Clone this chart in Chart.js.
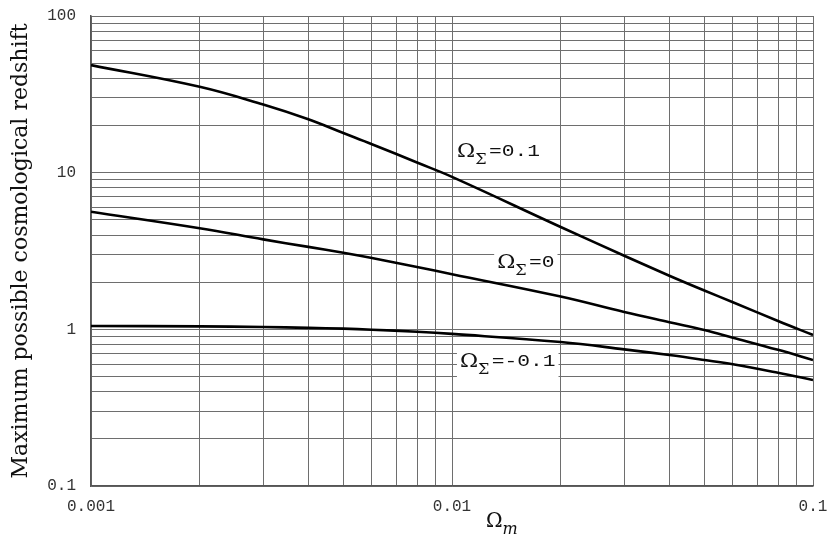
<!DOCTYPE html>
<html>
<head>
<meta charset="utf-8">
<script src="https://cdn.jsdelivr.net/npm/chart.js@4.4.1/dist/chart.umd.min.js"></script>
<style>
  html, body { margin: 0; padding: 0; background: #fff; }
  #wrap { width: 831px; height: 539px; position: relative; }
</style>
</head>
<body>
<div id="wrap"><canvas id="grafico"></canvas></div>
<script>
// valores (escala log-log)
const omegaM = [0.001, 0.002, 0.003, 0.004, 0.005, 0.006, 0.008, 0.01, 0.02, 0.03, 0.04, 0.05, 0.06, 0.08, 0.1];
const zMaxPos = [48.6, 35.3, 27.2, 21.9, 17.9, 15.2, 11.6, 9.4, 4.5, 2.95, 2.2, 1.77, 1.49, 1.13, 0.92];
const zMaxZero = [5.63, 4.42, 3.75, 3.36, 3.08, 2.85, 2.5, 2.25, 1.62, 1.29, 1.11, 0.99, 0.885, 0.74, 0.637];
const zMaxNeg = [1.05, 1.045, 1.035, 1.022, 1.01, 0.995, 0.965, 0.935, 0.83, 0.745, 0.685, 0.637, 0.598, 0.528, 0.475];
const seriesLabels = ["0.1", "0", "-0.1"];
const xTickLabels = ["0.001", "0.01", "0.1"];
const yTickLabels = ["0.1", "1", "10", "100"];

// linhas de grade: 1..9 em cada década
function grade(rotulos) {
  const vals = [];
  for (let i = 0; i < rotulos.length - 1; i++) {
    const d = Number(rotulos[i]);
    for (let k = 1; k <= 9; k++) vals.push(d * k);
  }
  vals.push(Number(rotulos[rotulos.length - 1]));
  return vals;
}

function rotuloTick(rotulos) {
  return function(v) {
    const r = rotulos.find(l => Math.abs(Number(l) - v) < v * 1e-6);
    return r || "";
  };
}

const pontos = arr => omegaM.map((x, i) => ({ x: x, y: arr[i] }));

// rótulos das curvas e título do eixo x
const rotulos = {
  id: "rotulos",
  beforeDatasetsDraw(chart) {
    const { ctx, scales: { x, y } } = chart;
    const itens = [
      { txt: seriesLabels[0], x: 0.01033, y: 12.6 },
      { txt: seriesLabels[1], x: 0.01334, y: 2.46 },
      { txt: seriesLabels[2], x: 0.01052, y: 0.5745 }
    ];
    const esc = 1.15;
    ctx.save();
    itens.forEach(it => {
      const px = x.getPixelForValue(it.x);
      const py = y.getPixelForValue(it.y);
      ctx.font = "19px 'DejaVu Serif'";
      const wO = ctx.measureText("\u03A9").width;
      ctx.font = "14px 'DejaVu Serif'";
      const wS = ctx.measureText("\u03A3").width;
      ctx.font = "17px 'Liberation Mono'";
      const wT = ctx.measureText("=" + it.txt).width;
      const larg = (wO + wS + 2) * esc + wT * 1.25;
      ctx.fillStyle = "#fff";
      ctx.fillRect(px - 3, py - 19, larg + 6, 30);
      ctx.fillStyle = "#111";
      ctx.textBaseline = "alphabetic";
      ctx.textAlign = "left";
      ctx.save();
      ctx.translate(px, py);
      ctx.scale(esc, 1);
      ctx.font = "19px 'DejaVu Serif'";
      ctx.fillText("\u03A9", 0, 0);
      ctx.font = "14px 'DejaVu Serif'";
      ctx.fillText("\u03A3", wO, 7);
      ctx.restore();
      ctx.save();
      ctx.translate(px + (wO + wS + 2) * esc, py - 1);
      ctx.scale(1.25, 1);
      ctx.font = "17px 'Liberation Mono'";
      ctx.fillText("=" + it.txt, 0, 0);
      ctx.restore();
    });
    // título do eixo x: Ω_m
    const ca = chart.chartArea;
    const tx = (ca.left + ca.right) / 2 + 34;
    const ty = ca.bottom + 41;
    ctx.fillStyle = "#111";
    ctx.textAlign = "left";
    ctx.font = "20px 'DejaVu Serif'";
    ctx.fillText("\u03A9", tx, ty);
    const w = ctx.measureText("\u03A9").width;
    ctx.font = "italic 16px 'DejaVu Serif'";
    ctx.fillText("m", tx + w, ty + 7);
    ctx.restore();
  }
};

document.addEventListener("DOMContentLoaded", function() {
  const estiloLinha = { borderColor: "#000", borderWidth: 2.6, pointRadius: 0, tension: 0.4, fill: false };
  const fonteTick = { family: "'Liberation Mono', monospace", size: 16 };

  new Chart(document.getElementById("grafico"), {
    type: "line",
    data: {
      datasets: [
        Object.assign({ label: seriesLabels[0], data: pontos(zMaxPos) }, estiloLinha),
        Object.assign({ label: seriesLabels[1], data: pontos(zMaxZero) }, estiloLinha),
        Object.assign({ label: seriesLabels[2], data: pontos(zMaxNeg) }, estiloLinha)
      ]
    },
    options: {
      responsive: true,
      maintainAspectRatio: false,
      animation: false,
      layout: { padding: { left: 0, top: 16, right: 18, bottom: 0 } },
      plugins: { legend: { display: false }, tooltip: { enabled: false } },
      scales: {
        x: {
          type: "logarithmic",
          min: Number(xTickLabels[0]),
          max: Number(xTickLabels[xTickLabels.length - 1]),
          afterBuildTicks: s => { s.ticks = grade(xTickLabels).map(v => ({ value: v })); },
          afterFit: s => { s.height = 53; s.paddingLeft = 0; s.paddingRight = 0; },
          grid: { color: "#6e6e6e", lineWidth: 1, drawTicks: false },
          border: { color: "#555", width: 1.5 },
          ticks: { autoSkip: false, maxRotation: 0, padding: 11, color: "#333", font: fonteTick, callback: rotuloTick(xTickLabels) }
        },
        y: {
          type: "logarithmic",
          min: Number(yTickLabels[0]),
          max: Number(yTickLabels[yTickLabels.length - 1]),
          afterBuildTicks: s => { s.ticks = grade(yTickLabels).map(v => ({ value: v })); },
          afterFit: s => { s.width = 91; s.paddingTop = 0; s.paddingBottom = 0; },
          grid: { color: "#6e6e6e", lineWidth: 1, drawTicks: false },
          border: { color: "#555", width: 1.5 },
          ticks: { autoSkip: false, padding: 15, color: "#333", font: fonteTick, callback: rotuloTick(yTickLabels) },
          title: {
            display: true,
            text: "Maximum possible cosmological redshift",
            color: "#111",
            font: { family: "'DejaVu Serif', serif", size: 22 },
            padding: { top: 8, bottom: 0 }
          }
        }
      }
    },
    plugins: [rotulos]
  });
});
</script>
</body>
</html>
